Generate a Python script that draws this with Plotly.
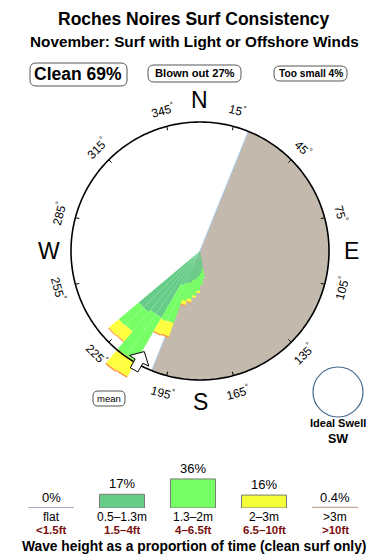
import math
import plotly.graph_objects as go

# ---------------- data ----------------
title = "Roches Noires Surf Consistency"
subtitle = "November: Surf with Light or Offshore Winds"
clean_pct, blown_pct, small_pct = 69, 27, 4

# direction bins (deg, 5-degree wide) and stacked radial lengths per height class
dir_bins = [172.5, 177.5, 182.5, 187.5, 192.5, 197.5, 202.5, 207.5, 212.5, 217.5, 222.5, 227.5]
r_small = [18, 22, 25, 28, 30, 33, 35, 38, 77, 77, 80, 80]      # 0.5-1.3m
r_mid = [10, 12, 15, 17, 19, 19, 42, 40, 51, 51, 25, 26]        # 1.3-2m
r_big = [0, 0, 2, 2, 3, 4, 14, 14, 17, 18, 13, 13]              # 2-3m
r_huge = [0, 0, 0, 0, 1, 1, 1.5, 1.5, 1.5, 1.5, 1, 1]           # >3m

offshore_center, offshore_width = 112, 180   # blown-out (onshore) sector
mean_dir = 209
tick_angles = [15, 45, 75, 105, 135, 165, 195, 225, 255, 285, 315, 345]
compass = [("N", 0), ("E", 90), ("S", 180), ("W", 270)]

leg_pcts = [0, 17, 36, 16, 0.4]
leg_pct_txt = ["0%", "17%", "36%", "16%", "0.4%"]
leg_m = ["flat", "0.5\u20131.3m", "1.3\u20132m", "2\u20133m", ">3m"]
leg_ft = ["<1.5ft", "1.5\u20134ft", "4\u20136.5ft", "6.5\u201310ft", ">10ft"]
leg_colors = ["#a7a9c6", "#66cc88", "#77ff66", "#f4ff3a", "#c9a9a0"]

# ---------------- layout constants ----------------
W, H = 390, 560
CX, CY = 200, 251
RP = 155          # polar plot radius (px == radial units)
RC = 129          # drawn compass circle radius
FONT = "Liberation Sans, Arial, sans-serif"

def px(x):
    return x / W

def py(y):
    return 1 - y / H

def polar_xy(r, th):
    t = math.radians(th)
    return px(CX + r * math.sin(t)), py(CY - r * math.cos(t))

fig = go.Figure()

# blown-out sector
fig.add_trace(go.Barpolar(r=[RC], theta=[offshore_center], width=[offshore_width],
                          marker=dict(color="#c3b9ac", line=dict(color="#a8c8ea", width=1)),
                          hoverinfo="skip", showlegend=False))

cols = ["#66cc88", "#77ff66", "#ffff40", "#ff9a3c"]
for vals, c in zip([r_small, r_mid, r_big, r_huge], cols):
    fig.add_trace(go.Barpolar(r=vals, theta=dir_bins, width=[5] * len(dir_bins),
                              marker=dict(color=c, line=dict(width=0)),
                              hoverinfo="skip", showlegend=False))

# compass circle
fig.add_trace(go.Scatterpolar(r=[RC] * 361, theta=list(range(361)), mode="lines",
                              line=dict(color="black", width=1.6), hoverinfo="skip",
                              showlegend=False))
# tick marks
tr, tt = [], []
for a in tick_angles:
    tr += [RC - 4, RC, None]
    tt += [a, a, None]
fig.add_trace(go.Scatterpolar(r=tr, theta=tt, mode="lines", line=dict(color="black", width=1),
                              hoverinfo="skip", showlegend=False))

# mean arrow (pointing inward)
ar = [115, 126, 126, 136, 136, 126, 126, 115]
at = [mean_dir, mean_dir - 5, mean_dir - 2, mean_dir - 1.8, mean_dir + 1.8,
      mean_dir + 2, mean_dir + 5, mean_dir]
fig.add_trace(go.Scatterpolar(r=ar, theta=at, mode="lines", fill="toself", fillcolor="white",
                              line=dict(color="black", width=1), hoverinfo="skip",
                              showlegend=False))

# legend bars
fig.add_trace(go.Bar(x=list(range(5)), y=leg_pcts, width=0.634,
                     marker=dict(color=leg_colors, line=dict(color="#7a7a7a", width=1)),
                     xaxis="x", yaxis="y", hoverinfo="skip", showlegend=False))
for i, v in enumerate(leg_pcts):
    if v < 1:
        fig.add_trace(go.Scatter(x=[i - 0.317, i + 0.317], y=[v, v], mode="lines",
                                 line=dict(color=leg_colors[i], width=2),
                                 xaxis="x", yaxis="y", hoverinfo="skip", showlegend=False))

ann = []
shapes = []

def rrect(x0, y0, x1, y1, r=5, color="#555", width=1):
    pts = (f"M{px(x0 + r)},{py(y0)} L{px(x1 - r)},{py(y0)} Q{px(x1)},{py(y0)} {px(x1)},{py(y0 + r)} "
           f"L{px(x1)},{py(y1 - r)} Q{px(x1)},{py(y1)} {px(x1 - r)},{py(y1)} "
           f"L{px(x0 + r)},{py(y1)} Q{px(x0)},{py(y1)} {px(x0)},{py(y1 - r)} "
           f"L{px(x0)},{py(y0 + r)} Q{px(x0)},{py(y0)} {px(x0 + r)},{py(y0)} Z")
    shapes.append(dict(type="path", path=pts, xref="paper", yref="paper",
                       line=dict(color=color, width=width)))

def text(x, y, s, size, bold=False, color="black", angle=0, xref="paper"):
    ann.append(dict(x=x, y=y, xref=xref, yref="paper", text=f"<b>{s}</b>" if bold else s,
                    showarrow=False, textangle=angle, borderpad=0,
                    font=dict(family=FONT, size=size, color=color),
                    xanchor="center", yanchor="middle"))

text(px(194), py(19), title, 17.5, bold=True)
text(px(194), py(42), subtitle, 15.3, bold=True)

text(px(78), py(74), f"Clean {clean_pct}%", 17.5, bold=True)
rrect(30, 63, 127, 86, 6)
text(px(194.5), py(73.5), f"Blown out {blown_pct}%", 11.2, bold=True)
rrect(148, 65, 241, 82, 6)
text(px(311), py(73.5), f"Too small {small_pct}%", 10.2, bold=True)
rrect(274, 66, 347, 81, 6)

# compass letters
for s, a in compass:
    x, y = polar_xy(151, a)
    text(x, y, s, 23)

# degree labels
for a in tick_angles:
    x, y = polar_xy(146, a)
    ang = ((a + 90) % 180) - 90
    text(x, y, f"{a}<sup>\u00b0</sup>", 12, angle=ang)

# mean label
text(px(109), py(398.5), "mean", 9.5)
rrect(93, 391, 125, 406, 5)

# ideal swell
shapes.append(dict(type="circle", xref="paper", yref="paper",
                   x0=px(313), x1=px(363), y0=py(417), y1=py(367),
                   line=dict(color="#46698c", width=1.2)))
text(px(338), py(423), "Ideal Swell", 11, bold=True)
text(px(338), py(439), "SW", 12.5, bold=True)

# legend texts
for i in range(5):
    ann.append(dict(x=i, y=leg_pcts[i], xref="x", yref="y", text=leg_pct_txt[i], showarrow=False,
                    yanchor="bottom", yshift=2, borderpad=0,
                    font=dict(family=FONT, size=13, color="black")))
    text(i, py(517), leg_m[i], 12, xref="x")
    text(i, py(530), leg_ft[i], 11.5, bold=True, color="#7a1010", xref="x")

text(px(194), py(546.5), "Wave height as a proportion of time (clean surf only)", 13.8, bold=True)

base = (H - 508) / H
fig.update_layout(
    width=W, height=H, margin=dict(l=0, r=0, t=0, b=0),
    paper_bgcolor="white", plot_bgcolor="rgba(0,0,0,0)",
    polar=dict(domain=dict(x=[px(CX - RP), px(CX + RP)], y=[py(CY + RP), py(CY - RP)]),
               bgcolor="rgba(0,0,0,0)", barmode="stack",
               radialaxis=dict(visible=False, range=[0, RP]),
               angularaxis=dict(visible=False, rotation=90, direction="clockwise")),
    xaxis=dict(domain=[15.5 / W, 370.5 / W], range=[-0.5, 4.5], visible=False, fixedrange=True),
    yaxis=dict(domain=[base, base + 36.3 / H], range=[0, 45], visible=False, fixedrange=True),
    annotations=ann, shapes=shapes, showlegend=False,
)

fig.write_html("out.html")
